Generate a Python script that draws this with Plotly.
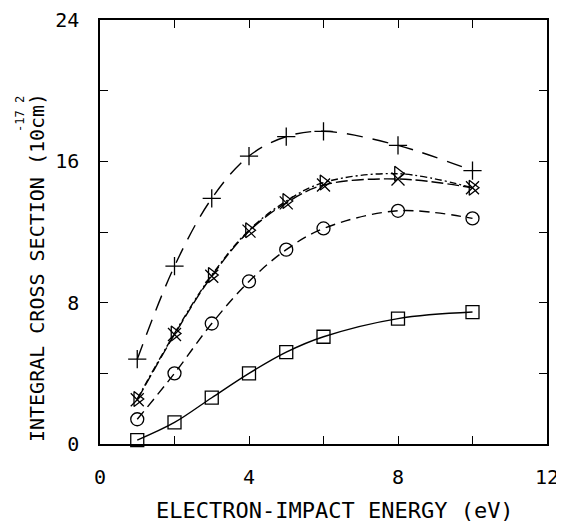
import plotly.graph_objects as go

energy = [1, 2, 3, 4, 5, 6, 8, 10]
sq_vals = [0.22, 1.22, 2.62, 4.0, 5.2, 6.07, 7.1, 7.47]
circ_vals = [1.4, 4.0, 6.82, 9.2, 11.0, 12.2, 13.2, 12.77]
plus_vals = [4.8, 10.07, 13.9, 16.3, 17.4, 17.7, 16.9, 15.47]
tri_vals = [2.55, 6.26, 9.56, 12.1, 13.75, 14.8, 15.3, 14.5]
x_vals = [2.5, 6.2, 9.5, 12.05, 13.65, 14.66, 15.0, 14.5]

x_tickvals = [0, 2, 4, 6, 8, 10, 12]
x_ticktext = ["0", "", "4", "", "8", "", "12"]
y_tickvals = [0, 4, 8, 12, 16, 20, 24]
y_ticktext = ["0", "", "8", "", "16", "", "24"]

FONT = "DejaVu Sans Mono"
fig = go.Figure()

series = [
    (sq_vals, "square-open", "solid"),
    (circ_vals, "circle-open", "10px,6px"),
    (plus_vals, "cross-thin-open", "16px,10px"),
    (x_vals, "x-thin-open", "12px,4px"),
    (tri_vals, "triangle-right-open", "7px,3px,2px,3px"),
]
for vals, sym, dash in series:
    fig.add_trace(go.Scatter(
        x=energy, y=vals, mode="lines+markers",
        line=dict(color="black", width=1.4, dash=dash, shape="spline", smoothing=1),
        marker=dict(symbol=sym, size=13, color="black", line=dict(width=1.3, color="black")),
        showlegend=False, cliponaxis=False,
    ))

axis_common = dict(
    showgrid=False, zeroline=False, showline=True, linecolor="black", linewidth=1.5,
    mirror="ticks", ticks="inside", ticklen=8, tickwidth=1.2, tickcolor="black",
    tickfont=dict(family=FONT, size=20, color="black"), automargin=False,
    ticklabeloverflow="allow",
)
fig.update_xaxes(range=[0, 12], tickvals=x_tickvals, ticktext=x_ticktext,
                 ticklabelstandoff=14, **axis_common)
fig.update_yaxes(range=[0, 24], tickvals=y_tickvals, ticktext=y_ticktext,
                 ticklabelstandoff=15, **axis_common)

fig.add_annotation(text="ELECTRON-IMPACT ENERGY (eV)",
                   xref="paper", yref="paper", x=0.526, y=0, yshift=-66,
                   xanchor="center", yanchor="middle", showarrow=False,
                   font=dict(family=FONT, size=22, color="black"))
fig.add_annotation(text="INTEGRAL CROSS SECTION (10cm)", textangle=-90,
                   xref="paper", yref="paper", x=0, y=0.415, xshift=-63,
                   xanchor="center", yanchor="middle", showarrow=False,
                   font=dict(family=FONT, size=20, color="black"))
fig.add_annotation(text="-17", textangle=-90, xref="paper", yref="paper",
                   x=0, y=(444 - 121) / 424, xshift=-80, showarrow=False,
                   xanchor="center", yanchor="middle",
                   font=dict(family=FONT, size=12, color="black"))
fig.add_annotation(text="2", textangle=-90, xref="paper", yref="paper",
                   x=0, y=(444 - 100) / 424, xshift=-80, showarrow=False,
                   xanchor="center", yanchor="middle",
                   font=dict(family=FONT, size=12, color="black"))

fig.update_layout(width=556, height=516, margin=dict(l=92, r=17, t=12, b=80),
                  plot_bgcolor="white", paper_bgcolor="white")
fig.write_html("out.html")
